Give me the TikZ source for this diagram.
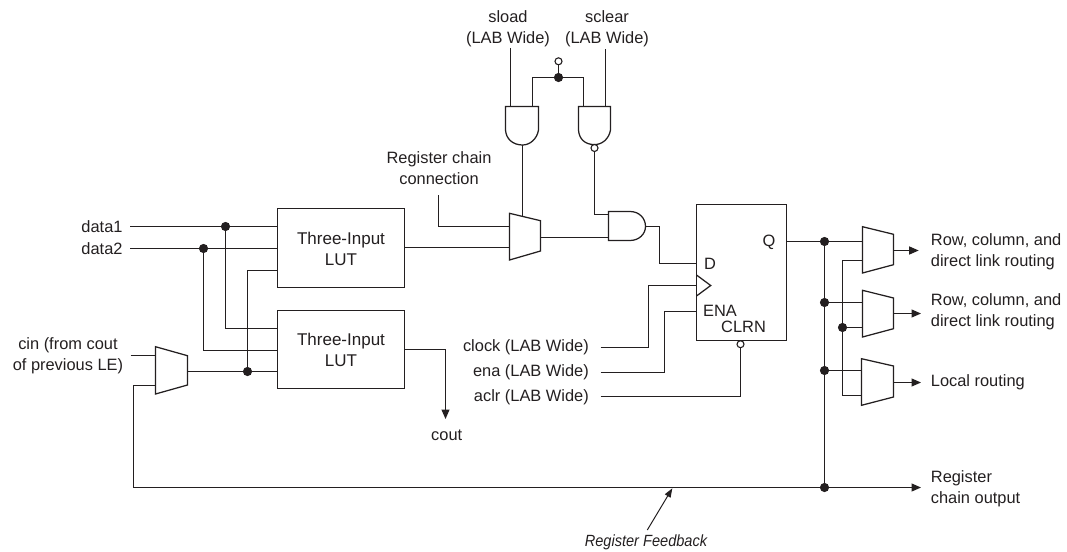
\documentclass[tikz,border=0pt]{standalone}
\usepackage{fontspec}
\setmainfont{Liberation Sans}
\newfontfamily\fbfont[FakeStretch=0.9,UprightFont=*-Italic]{Liberation Sans}
\usetikzlibrary{arrows.meta}
\definecolor{ink}{HTML}{231F20}
\tikzset{
  wire/.style={draw=ink,line width=1.25pt,line join=miter},
  sig/.style={wire,-{Triangle[length=9.5pt,width=8pt]}},
  gate/.style={draw=ink,line width=1.25pt,fill=white,line join=miter},
  box/.style={draw=ink,line width=1.25pt,fill=white,rectangle,anchor=north west,inner sep=0pt,outer sep=0pt},
  dot/.style={circle,fill=ink,draw=none,minimum size=9.2pt,inner sep=0pt},
  bubble/.style={circle,fill=white,draw=ink,line width=1.1pt,minimum size=7pt,inner sep=0pt},
  lab/.style={text=ink,font=\fontsize{16.4}{20.6}\selectfont,inner sep=0pt,align=center},
  labl/.style={lab,anchor=west,align=left},
  labr/.style={lab,anchor=east,align=right},
  lutlab/.style={lab,font=\fontsize{17}{21}\selectfont},
}
\begin{document}
\begin{tikzpicture}[x=1pt,y=-1pt]
\useasboundingbox (0,0) rectangle (1067,551);
% LUTs and register
\node[box,minimum width=127pt,minimum height=79pt] (lutA) at (277.5,208.5) {};
\node[box,minimum width=127pt,minimum height=78pt] (lutB) at (277.5,310.5) {};
\node[box,minimum width=90pt,minimum height=136pt] (ff) at (696.5,204.5) {};
\node[lutlab] (lutAt) at (341,248.5) {Three-Input\\LUT};
\node[lutlab] (lutBt) at (341,350) {Three-Input\\LUT};
% gates
\draw[gate] (505.5,106.5) -- (538.5,106.5) -- (538.5,130) .. controls (537,139) and (530,145) .. (522.5,145) .. controls (513,145) and (506,139) .. (505.5,130) -- cycle;
\draw[gate] (578.5,106.5) -- (610.5,106.5) -- (610.5,130) .. controls (609,139) and (602,144.6) .. (594.5,144.6) .. controls (585,144.6) and (579,139) .. (578.5,130) -- cycle;
\draw[gate] (608.5,211.5) -- (630,211.5) .. controls (639,211.5) and (645.5,218) .. (645.5,226.5) .. controls (645.5,234) and (639,240.5) .. (630,240.5) -- (608.5,240.5) -- cycle;
\draw[gate] (509.5,213.3) -- (540.5,220.7) -- (540.5,251) -- (509.5,260) -- cycle;
\draw[gate] (155.5,346.7) -- (187.5,355.7) -- (187.5,385) -- (155.5,394) -- cycle;
\draw[gate] (862.5,226.7) -- (893.5,234.3) -- (893.5,264.7) -- (862.5,273) -- cycle;
\draw[gate] (862.5,290.3) -- (893.5,298) -- (893.5,328.7) -- (862.5,337) -- cycle;
\draw[gate] (861.5,358.7) -- (893.5,366) -- (893.5,397) -- (861.5,405.3) -- cycle;
\draw[wire] (696.5,275) -- (710.7,285.5) -- (696.5,296);
% labels
\node[lab] (tsload) at (508,28.5) {sload\\(LAB Wide)};
\node[lab] (tsclear) at (607,28.5) {sclear\\(LAB Wide)};
\node[lab] (trc) at (439,168) {Register chain\\connection};
\node[labr] (td1) at (122.7,226.7) {data1};
\node[labr] (td2) at (122.7,248.3) {data2};
\node[labr,align=center] (tcin) at (123.3,356) {cin (from cout\\of previous LE)};
\node[labr] (tclk) at (589,347) {clock (LAB Wide)};
\node[labr] (tena) at (589,372) {ena (LAB Wide)};
\node[labr] (tacl) at (589,397) {aclr (LAB Wide)};
\node[lab] (tcout) at (446.7,435) {cout};
\node[lab] (tq) at (769,242) {Q};
\node[lab] (td) at (710,263.5) {D};
\node[labl] (tenap) at (703,311) {ENA};
\node[labl] (tclrn) at (721,327) {CLRN};
\node[labl] (tr1) at (930.7,252) {Row, column, and\\direct link routing};
\node[labl] (tr2) at (930.7,312) {Row, column, and\\direct link routing};
\node[labl] (tlr) at (930.7,382) {Local routing};
\node[labl] (tro) at (930.7,489) {Register\\chain output};
\node[lab,font=\fontsize{16.2}{18}\fbfont] (tfb) at (646,542.5) {Register Feedback};
% dots
\node[dot] (jsel) at (558.5,77.5) {};
\node[dot] (jd1) at (225.5,226.5) {};
\node[dot] (jd2) at (203.5,248.5) {};
\node[dot] (jc) at (247.5,371.5) {};
\node[dot] (jq) at (824.5,241.5) {};
\node[dot] (jm2) at (824.5,302.5) {};
\node[dot] (jm3) at (824.5,370.5) {};
\node[dot] (jrc) at (824.5,487.5) {};
\node[dot] (js2) at (842.5,327.5) {};
% bubbles
\node[bubble] (bsel) at (558.5,61.3) {};
\node[bubble] (bnand) at (594.5,148) {};
\node[bubble] (bclr) at (740.5,344.2) {};
% free ends and pins
\coordinate (sl0) at (510.5,48);
\coordinate (sl1) at (510.5,106.5);
\coordinate (sc0) at (605.5,49.5);
\coordinate (sc1) at (605.5,106.5);
\coordinate (g1a) at (532.5,106.5);
\coordinate (g2a) at (583.5,106.5);
\coordinate (g1o) at (522.5,145);
\coordinate (msel) at (522.5,216.3);
\coordinate (rc0) at (438.5,195);
\coordinate (min1) at (509.5,226.5);
\coordinate (min2) at (509.5,247.5);
\coordinate (mo) at (540.5,237.5);
\coordinate (a3b) at (608.5,237.5);
\coordinate (a3a) at (608.5,214.5);
\coordinate (a3o) at (645.5,226.5);
\coordinate (ffd) at (696.5,263.5);
\coordinate (ffc) at (696.5,285.5);
\coordinate (ffe) at (696.5,311.5);
\coordinate (ffq) at (786.5,241.5);
\coordinate (d1s) at (130,226.5);
\coordinate (d2s) at (130,248.5);
\coordinate (cins) at (130.7,355.5);
\coordinate (cinm) at (155.5,355.5);
\coordinate (cinf) at (155.5,385.5);
\coordinate (cmo) at (187.5,371.5);
\coordinate (clks) at (600.7,347.5);
\coordinate (enas) at (600.7,372.5);
\coordinate (acls) at (600.7,396.5);
\coordinate (m1a) at (862.5,241.5);
\coordinate (m1b) at (862.5,260.5);
\coordinate (m2a) at (862.5,302.5);
\coordinate (m2b) at (862.5,327.5);
\coordinate (m3a) at (861.5,370.5);
\coordinate (m3b) at (861.5,395.5);
\coordinate (m1o) at (893.5,250.5);
\coordinate (m2o) at (893.5,313.5);
\coordinate (m3o) at (893.5,382.5);
\coordinate (o1) at (918.7,250.5);
\coordinate (o2) at (921,313.5);
\coordinate (o3) at (921,382.5);
\coordinate (o4) at (921,487.5);
\coordinate (fbs) at (647.3,530);
\coordinate (fbe) at (672.3,488.3);
\coordinate (ctip) at (445.5,419);
% connectors
\draw[wire] (sl0) -- (sl1);
\draw[wire] (sc0) -- (sc1);
\draw[wire] (g1a) |- (jsel.center) -| (g2a);
\draw[wire] (jsel.center) -- (bsel);
\draw[wire] (g1o) -- (msel);
\draw[wire] (bnand) |- (a3a);
\draw[wire] (rc0) |- (min1);
\draw[wire] (lutA.east |- min2) -- (min2);
\draw[wire] (mo) -- (a3b);
\draw[wire] (a3o) -- (659.5,226.5) |- (ffd);
\draw[wire] (d1s) -- (jd1.center) -- (lutA.west |- jd1);
\draw[wire] (d2s) -- (jd2.center) -- (lutA.west |- jd2);
\draw[wire] (jd1.center) |- (lutB.west |- 0,328.5);
\draw[wire] (jd2.center) |- (lutB.west |- 0,350.5);
\draw[wire] (cmo) -- (jc.center) -- (lutB.west |- jc);
\draw[wire] (jc.center) |- (lutA.west |- 0,270.5);
\draw[wire] (cins) -- (cinm);
\draw[sig] (lutB.east |- 0,349.5) -| (ctip);
\draw[wire] (clks) -- (648.5,347.5) |- (ffc);
\draw[wire] (enas) -- (664.5,372.5) |- (ffe);
\draw[wire] (acls) -| (bclr);
\draw[wire] (ffq) -- (jq.center) -- (m1a);
\draw[wire] (jq.center) -- (jrc.center);
\draw[wire] (jm2.center) -- (m2a);
\draw[wire] (jm3.center) -- (m3a);
\draw[wire] (m1b) -| (js2.center) |- (m3b);
\draw[wire] (js2.center) -- (m2b);
\draw[sig] (m1o) -- (o1);
\draw[sig] (m2o) -- (o2);
\draw[sig] (m3o) -- (o3);
\draw[sig] (cinf) -- (133.5,385.5) |- (o4);
\draw[wire,line width=1pt,-{Triangle[length=9pt,width=6.5pt]}] (fbs) -- (fbe);
\end{tikzpicture}
\end{document}
